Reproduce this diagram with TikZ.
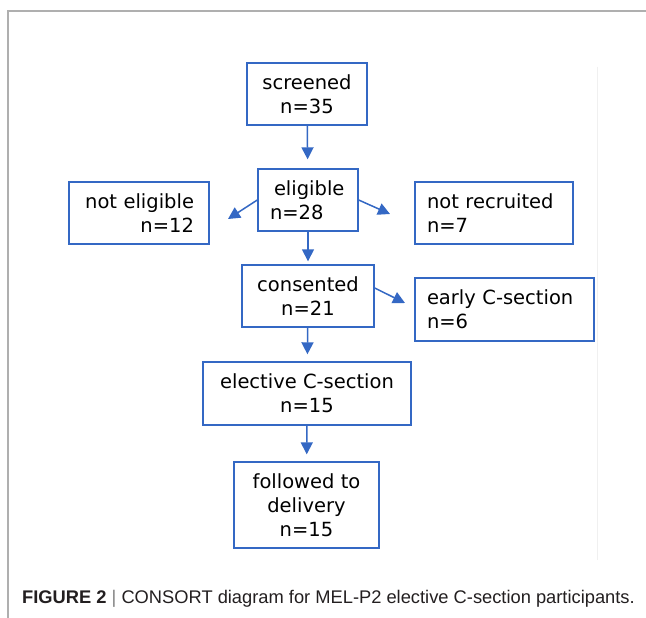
\documentclass[tikz,border=0pt]{standalone}
\usepackage{fontspec}
\setmainfont{DejaVu Sans}
\newfontfamily\capfont{Liberation Sans}
\usetikzlibrary{arrows.meta}
\definecolor{boxblue}{RGB}{52,104,196}
\definecolor{framegray}{RGB}{175,175,175}
\definecolor{captext}{RGB}{35,31,32}

\begin{document}
\begin{tikzpicture}[x=1pt, y=-1pt,
	box/.style={draw=boxblue, line width=1.4pt, fill=white, inner xsep=12pt, inner ysep=0pt,
		font=\fontsize{19.5}{24}\selectfont},
	flow/.style={draw=boxblue, line width=1.5pt, -{Triangle[length=12pt, width=12pt]}}]
		\useasboundingbox (0,0) rectangle (646,618);
		\fill[white] (0,0) rectangle (646,618);
		\draw[framegray, line width=1.5pt] (646,11) -- (8,11) -- (8,618);
		\draw[gray!12, line width=1pt] (597,67) -- (597,560);

		\node[box, minimum width=120pt, minimum height=62pt, align=center] (screened) at (307,94) {screened\\n=35};
		\node[box, text width=76pt, minimum height=62pt, align=left] (eligible) at (308,200) {\hspace*{4pt}eligible\\n=28};
		\node[box, inner xsep=15pt, text width=110pt, minimum height=62pt, align=right] (noteligible) at (139,213) {not eligible\\n=12};
		\node[box, text width=134pt, minimum height=62pt, align=left] (notrecruited) at (494,213) {not recruited\\n=7};
		\node[box, minimum width=132pt, minimum height=62pt, align=center] (consented) at (308,296) {consented\\n=21};
		\node[box, text width=155pt, minimum height=63pt, align=left] (early) at (504.5,309.5) {early C-section\\n=6};
		\node[box, minimum width=208pt, minimum height=63pt, align=center] (elective) at (307,393.5) {elective C-section\\n=15};
		\node[box, minimum width=145pt, minimum height=86pt, align=center] (followed) at (306.5,505) {followed to\\delivery\\n=15};

		\coordinate (noteligibletip) at (228,219);
		\coordinate (notrecruitedtip) at (390,214);
		\coordinate (earlytip) at (405,303);

		\draw[flow, shorten >=9pt] (screened) -- (eligible);
		\draw[flow, shorten >=3pt] (eligible) -- (consented);
		\draw[flow, shorten >=7pt] (consented) -- (elective);
		\draw[flow, shorten >=7pt] (elective) -- (followed);
		\draw[flow] (eligible.west) -- (noteligibletip);
		\draw[flow] (eligible.east) -- (notrecruitedtip);
		\draw[flow] ([yshift=8pt]consented.east) -- (earlytip);

		\node[anchor=base west, inner sep=0pt, text=captext, font=\capfont\fontsize{18.3}{21}\selectfont] (caption) at (22,603)
		{\textbf{FIGURE 2} {\color{gray}|} CONSORT diagram for MEL-P2 elective C-section participants.};
	\end{tikzpicture}
\end{document}
